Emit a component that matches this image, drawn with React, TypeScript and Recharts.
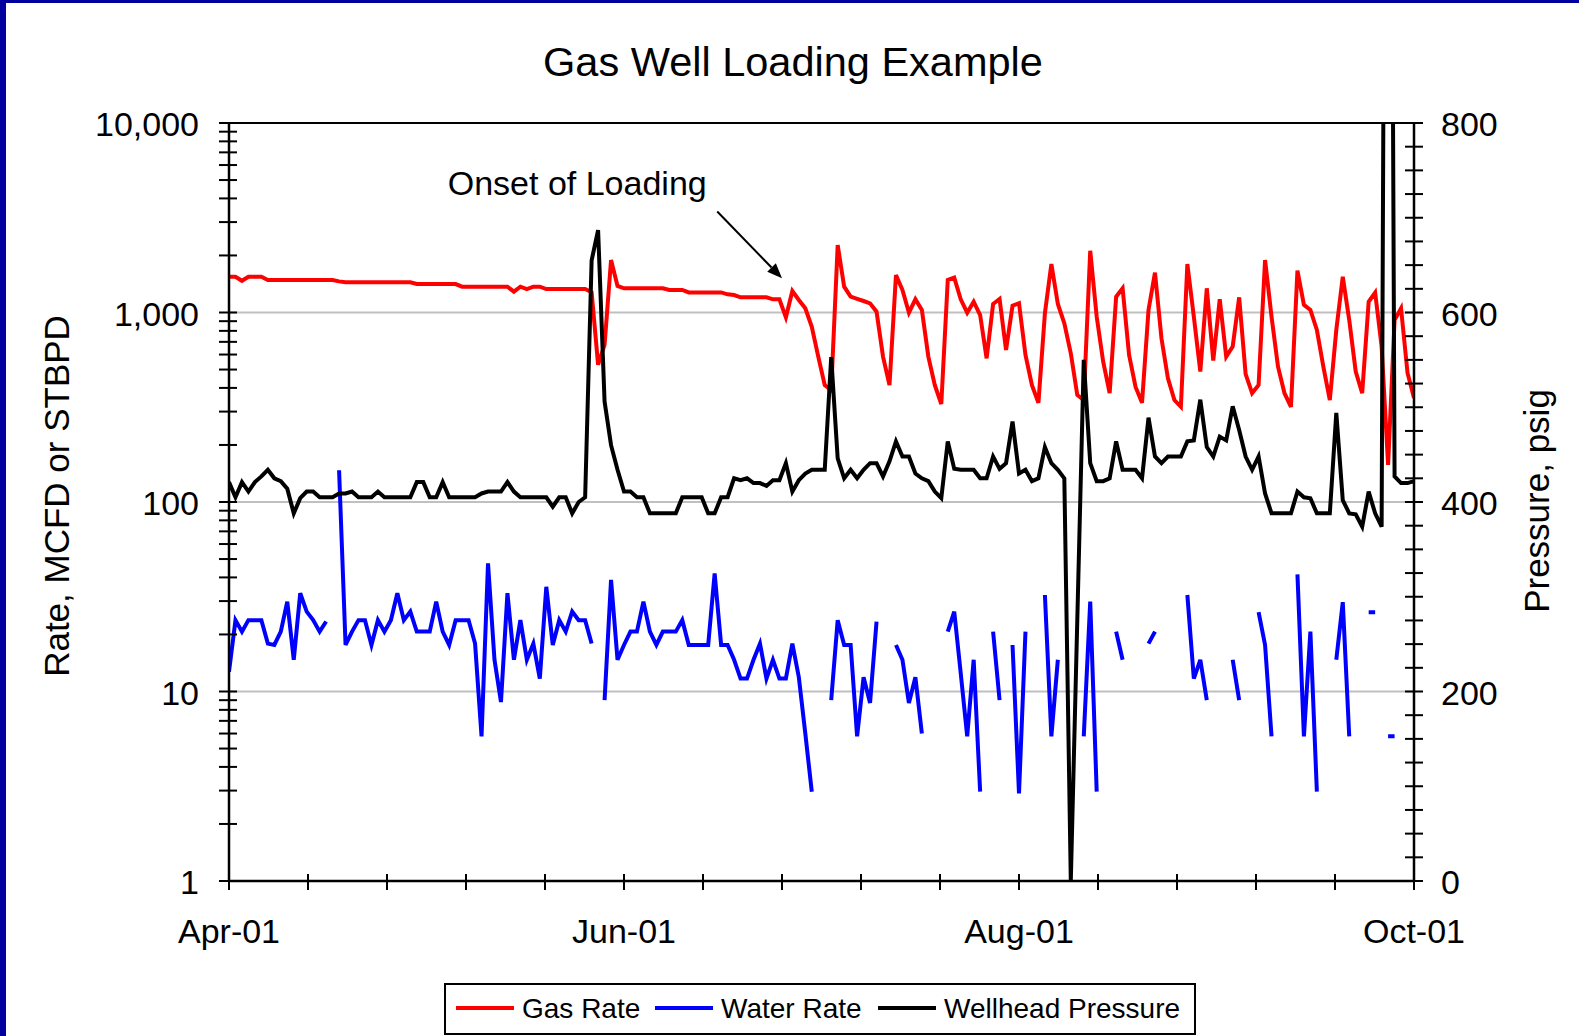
import { ComposedChart, Line, ReferenceLine, XAxis, YAxis } from "recharts";

// Daily values, Apr-01 (index 0) through Oct-01 (index 183).
const GAS_RATE = [
  1545, 1545, 1470, 1545, 1545, 1545, 1483, 1483, 1483, 1483,
  1483, 1483, 1483, 1483, 1483, 1483, 1483, 1460, 1443, 1443,
  1443, 1443, 1443, 1443, 1443, 1443, 1443, 1443, 1443, 1413,
  1413, 1413, 1413, 1413, 1413, 1413, 1368, 1368, 1368, 1368,
  1368, 1368, 1368, 1368, 1288, 1368, 1330, 1368, 1368, 1330,
  1330, 1330, 1330, 1330, 1330, 1330, 1280, 530, 675, 1890,
  1380, 1342, 1342, 1342, 1342, 1342, 1342, 1342, 1315, 1315,
  1315, 1277, 1277, 1277, 1277, 1277, 1277, 1247, 1237, 1203,
  1203, 1203, 1203, 1203, 1174, 1174, 943, 1298, 1164, 1053,
  841, 585, 414, 390, 2270, 1368, 1212, 1180, 1150, 1118,
  1010, 585, 414, 1577, 1315, 998, 1174, 1031, 585, 414,
  329, 1484, 1527, 1174, 998, 1141, 970, 573, 1109, 1179,
  634, 1087, 1119, 597, 414, 334, 990, 1803, 1109, 877,
  609, 367, 345, 2118, 950, 550, 375, 1211, 1342, 597,
  405, 334, 1031, 1622, 731, 450, 345, 318, 1803, 950,
  488, 1342, 557, 1174, 585, 661, 1202, 473, 375, 414,
  1892, 950, 518, 375, 318, 1664, 1097, 1031, 809, 518,
  345, 809, 1545, 912, 488, 375, 1140, 1273, 661, 157,
  912, 1052, 480, 354,
];

const WATER_RATE = [
  12.7, 23.8, 20.7, 23.8, 23.8, 23.8, 17.9, 17.6, 20.7, 29.8,
  14.7, 33, 26.4, 23.8, 20.7, 23.4, null, 147, 17.6, 20.7,
  23.8, 23.8, 17.6, 23.8, 20.7, 23.8, 33, 23.8, 26.4, 20.7,
  20.7, 20.7, 29.8, 20.7, 17.6, 23.8, 23.8, 23.8, 17.9, 5.8,
  47.5, 14.7, 8.8, 33, 14.7, 23.8, 14.7, 17.9, 11.7, 35.7,
  17.6, 23.8, 20.7, 26.4, 23.8, 23.8, 17.9, null, 9.0, 38.8,
  14.7, 17.6, 20.7, 20.7, 29.8, 20.7, 17.6, 20.7, 20.7, 20.7,
  23.8, 17.6, 17.6, 17.6, 17.6, 42, 17.6, 17.6, 14.7, 11.7,
  11.7, 14.7, 17.9, 11.7, 14.7, 11.7, 11.7, 17.9, 11.9, 6.0,
  2.96, null, null, 9.0, 23.8, 17.6, 17.6, 5.8, 11.9, 8.7,
  23.4, null, null, 17.6, 14.7, 8.7, 11.9, 6.0, null, null,
  null, 20.7, 26.4, 12.5, 5.8, 14.7, 2.96, null, 20.7, 9.0,
  null, 17.6, 2.9, 20.7, null, null, 32.3, 5.8, 14.7, null,
  null, null, 5.8, 29.8, 2.96, null, null, 20.7, 14.7, null,
  null, null, 17.9, 20.7, null, null, null, null, 32.3, 11.7,
  14.7, 9.0, null, null, null, 14.7, 9.0, null, null, 26.2,
  17.6, 5.8, null, null, null, 41.5, 5.8, 20.7, 2.96, null,
  null, 14.7, 29.6, 5.8, null, null, 26.2, 26.2, null, 5.8,
  5.8, null, null, null,
];

const WELLHEAD_PSIG = [
  421, 405, 421, 411, 421, 427, 434, 425, 422, 414,
  388, 404, 411, 411, 405, 405, 405, 409, 409, 411,
  405, 405, 405, 411, 405, 405, 405, 405, 405, 421,
  421, 405, 405, 421, 405, 405, 405, 405, 405, 409,
  411, 411, 411, 421, 411, 405, 405, 405, 405, 405,
  395, 405, 405, 388, 400, 405, 655, 687, 506, 460,
  434, 411, 411, 405, 405, 388, 388, 388, 388, 388,
  405, 405, 405, 405, 388, 388, 405, 405, 425, 423,
  425, 420, 420, 417, 423, 423, 441, 411, 423, 430,
  434, 434, 434, 553, 446, 425, 434, 425, 434, 441,
  441, 427, 443, 464, 448, 448, 430, 425, 422, 411,
  404, 464, 435, 434, 434, 434, 425, 425, 448, 435,
  441, 485, 430, 434, 422, 425, 458, 441, 434, 425,
  0, 275, 550, 441, 422, 422, 425, 464, 434, 434,
  434, 425, 489, 448, 441, 448, 448, 448, 464, 465,
  508, 458, 448, 469, 465, 501, 476, 448, 434, 448,
  409, 388, 388, 388, 388, 411, 405, 404, 388, 388,
  388, 494, 402, 388, 387, 374, 411, 388, 374, 2000,
  427, 420, 420, 422,
];

const X_MAJOR_DAYS = [0, 61, 122, 183];
const X_MAJOR_LABELS = ["Apr-01", "Jun-01", "Aug-01", "Oct-01"];
const RATE_MAJOR = [1, 10, 100, 1000, 10000];
const RATE_LABELS = ["1", "10", "100", "1,000", "10,000"];
const PSIG_MAJOR = [0, 200, 400, 600, 800];
const GRID_RATES = [10, 100, 1000];
// "Onset of Loading" arrow, in (day, rate) units
const ONSET_ARROW = [
  { x: 75.4, y: 3410 },
  { x: 85.4, y: 1515 },
];

const FONT = '"Liberation Sans", Arial, sans-serif';
const FRAME = "#00009e";

// minor ticks: 5 per two-month step on x, 2..9 per decade on the log axis, 25 psig on the right
const X_TICKS = Array.from({ length: 16 }, (_, i) => Math.round((i * 183 * 100) / 15) / 100);
const RATE_TICKS = [1, 10, 100, 1000]
  .flatMap((d) => [1, 2, 3, 4, 5, 6, 7, 8, 9].map((m) => d * m))
  .concat([10000]);
const PSIG_TICKS = Array.from({ length: 33 }, (_, i) => i * 25);

const rows = GAS_RATE.map((gas, day) => ({
  day,
  gas,
  water: WATER_RATE[day],
  psig: WELLHEAD_PSIG[day],
}));

function DayTick({ x, y, payload }: any) {
  const i = X_MAJOR_DAYS.indexOf(payload.value);
  return (
    <g>
      <line x1={x} x2={x} y1={y - 7} y2={y + 9} stroke="#000" strokeWidth={2} />
      {i >= 0 && (
        <text x={x} y={y + 62} textAnchor="middle" fontSize={34} fontFamily={FONT} fill="#000">
          {X_MAJOR_LABELS[i]}
        </text>
      )}
    </g>
  );
}

function RateTick({ x, y, payload }: any) {
  const i = RATE_MAJOR.indexOf(payload.value);
  return (
    <g>
      <line x1={x - 10} x2={x + 8} y1={y} y2={y} stroke="#000" strokeWidth={2} />
      {i >= 0 && (
        <text x={x - 30} y={y + 13} textAnchor="end" fontSize={34} fontFamily={FONT} fill="#000">
          {RATE_LABELS[i]}
        </text>
      )}
    </g>
  );
}

function PsigTick({ x, y, payload }: any) {
  const major = PSIG_MAJOR.includes(payload.value);
  return (
    <g>
      <line x1={x - 9} x2={x + 9} y1={y} y2={y} stroke="#000" strokeWidth={2} />
      {major && (
        <text x={x + 27} y={y + 13} textAnchor="start" fontSize={34} fontFamily={FONT} fill="#000">
          {payload.value}
        </text>
      )}
    </g>
  );
}

function OnsetArrow({ x1, y1, x2, y2 }: any) {
  const a = Math.atan2(y2 - y1, x2 - x1);
  const len = 15;
  const half = 6;
  const bx = x2 - len * Math.cos(a);
  const by = y2 - len * Math.sin(a);
  const pts = [
    `${x2},${y2}`,
    `${bx + half * Math.sin(a)},${by - half * Math.cos(a)}`,
    `${bx - half * Math.sin(a)},${by + half * Math.cos(a)}`,
  ].join(" ");
  return (
    <g>
      <line x1={x1} y1={y1} x2={bx} y2={by} stroke="#000" strokeWidth={2} />
      <polygon points={pts} fill="#000" />
      <text x={x1 - 140} y={y1 - 17} textAnchor="middle" fontSize={34} fontFamily={FONT} fill="#000">
        Onset of Loading
      </text>
    </g>
  );
}

const LEGEND = [
  { name: "Gas Rate", color: "#ff0000", x: 456 },
  { name: "Water Rate", color: "#0000ff", x: 655 },
  { name: "Wellhead Pressure", color: "#000000", x: 878 },
];

export default function App() {
  return (
    <div
      style={{
        position: "absolute",
        left: 0,
        top: 0,
        width: 1579,
        height: 1036,
        background: "#fff",
        fontFamily: FONT,
        overflow: "hidden",
      }}
    >
      <ComposedChart
        width={1579}
        height={1036}
        data={rows}
        margin={{ top: 123, right: 0, bottom: 95, left: 0 }}
      >
        <XAxis
          dataKey="day"
          type="number"
          domain={[0, 183]}
          allowDataOverflow
          ticks={X_TICKS}
          interval={0}
          height={60}
          tickSize={0}
          tickMargin={0}
          tickLine={false}
          tick={(p: any) => <DayTick {...p} />}
          axisLine={{ stroke: "#000", strokeWidth: 2.5 }}
        />
        <YAxis
          yAxisId="rate"
          type="number"
          scale="log"
          domain={[1, 10000]}
          allowDataOverflow
          ticks={RATE_TICKS}
          interval={0}
          width={229}
          tickSize={0}
          tickMargin={0}
          tickLine={false}
          tick={(p: any) => <RateTick {...p} />}
          axisLine={{ stroke: "#000", strokeWidth: 2.5 }}
        />
        <YAxis
          yAxisId="psi"
          orientation="right"
          type="number"
          domain={[0, 800]}
          allowDataOverflow
          ticks={PSIG_TICKS}
          interval={0}
          width={165}
          tickSize={0}
          tickMargin={0}
          tickLine={false}
          tick={(p: any) => <PsigTick {...p} />}
          axisLine={{ stroke: "#000", strokeWidth: 2.5 }}
        />
        {GRID_RATES.map((v) => (
          <ReferenceLine
            key={v}
            yAxisId="rate"
            y={v}
            stroke="#c0c0c0"
            strokeWidth={2}
            zIndex={-10}
          />
        ))}
        <ReferenceLine yAxisId="rate" y={10000} stroke="#000" strokeWidth={2} />
        <Line
          yAxisId="rate"
          type="linear"
          dataKey="gas"
          name="Gas Rate"
          stroke="#ff0000"
          strokeWidth={4}
          dot={false}
          activeDot={false}
          isAnimationActive={false}
        />
        <Line
          yAxisId="rate"
          type="linear"
          dataKey="water"
          name="Water Rate"
          stroke="#0000ff"
          strokeWidth={4}
          dot={false}
          activeDot={false}
          isAnimationActive={false}
        />
        <Line
          yAxisId="psi"
          type="linear"
          dataKey="psig"
          name="Wellhead Pressure"
          stroke="#000000"
          strokeWidth={4}
          dot={false}
          activeDot={false}
          isAnimationActive={false}
        />
        <ReferenceLine
          yAxisId="rate"
          segment={ONSET_ARROW}
          shape={(p: any) => <OnsetArrow {...p} />}
        />
      </ComposedChart>

      <svg
        width={1579}
        height={1036}
        style={{ position: "absolute", left: 0, top: 0, pointerEvents: "none" }}
        fontFamily={FONT}
      >
        <rect x={0} y={0} width={6} height={1036} fill={FRAME} />
        <rect x={0} y={0} width={1579} height={3} fill={FRAME} />
        <text x={793} y={76} textAnchor="middle" fontSize={41.5} fill="#000">
          Gas Well Loading Example
        </text>
        <text transform="translate(69 496) rotate(-90)" textAnchor="middle" fontSize={35} fill="#000">
          Rate, MCFD or STBPD
        </text>
        <text transform="translate(1549 501) rotate(-90)" textAnchor="middle" fontSize={35} fill="#000">
          Pressure, psig
        </text>
        <rect x={445} y={984} width={750} height={50} fill="#fff" stroke="#000" strokeWidth={2} />
        {LEGEND.map((l) => (
          <g key={l.name}>
            <line x1={l.x} x2={l.x + 58} y1={1008} y2={1008} stroke={l.color} strokeWidth={4} />
            <text x={l.x + 66} y={1018} fontSize={28} fill="#000">
              {l.name}
            </text>
          </g>
        ))}
      </svg>
      <div style={{ position: "absolute", left: 0, top: 0, width: 6, height: 1036, background: FRAME }} />
      <div style={{ position: "absolute", left: 0, top: 0, width: 1579, height: 3, background: FRAME }} />
    </div>
  );
}
